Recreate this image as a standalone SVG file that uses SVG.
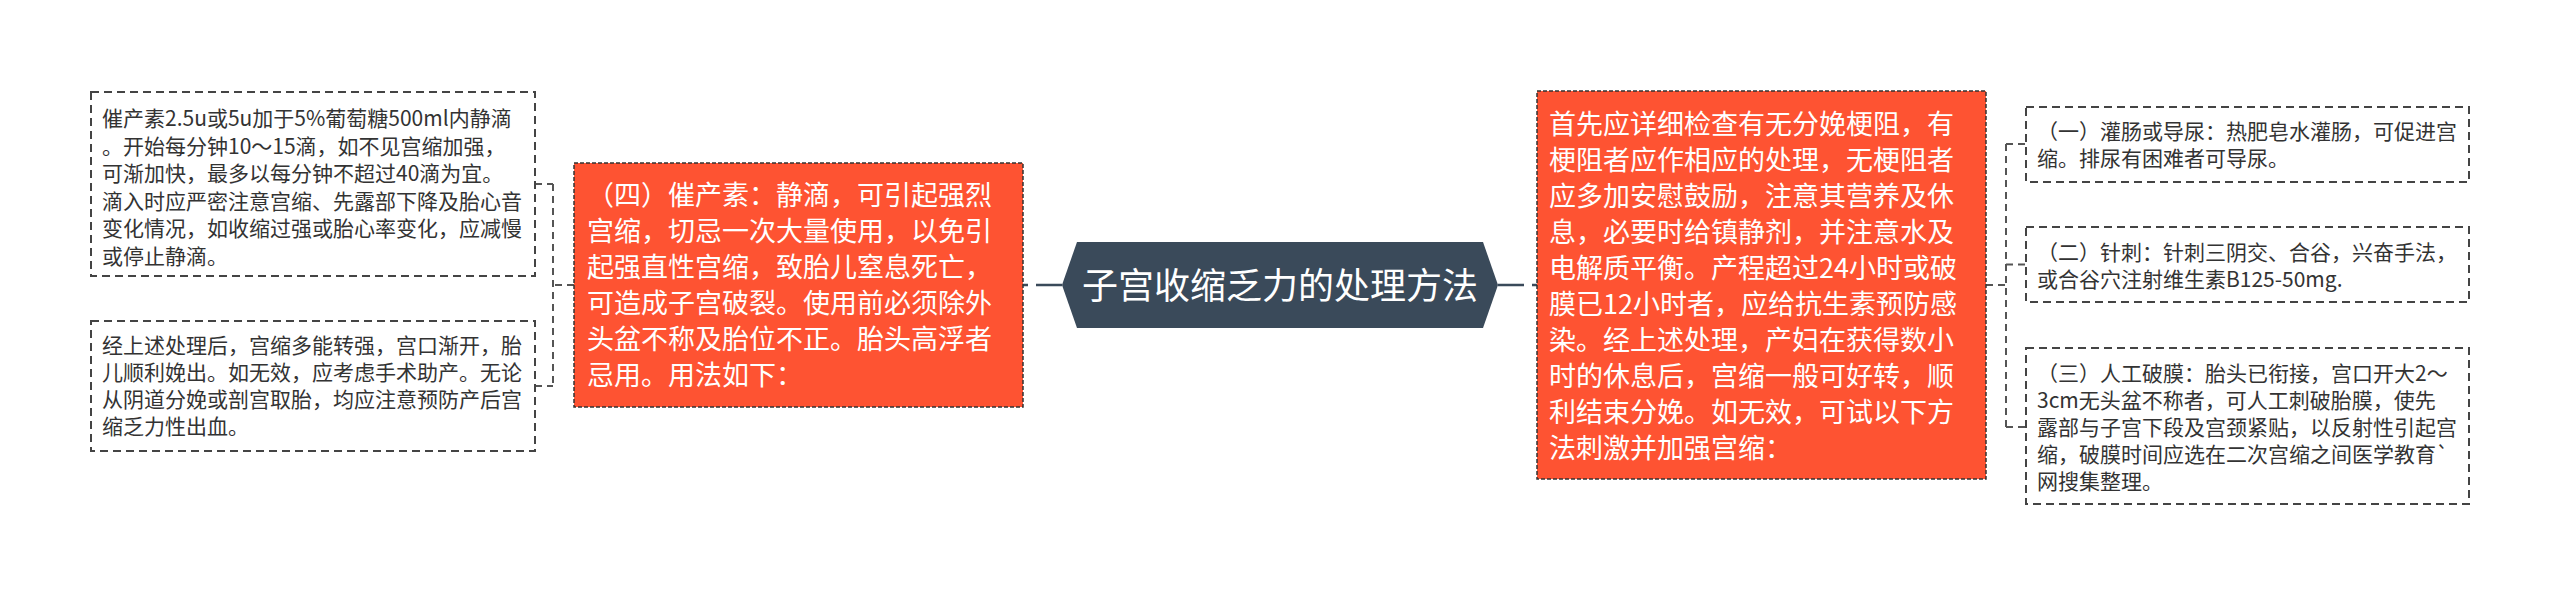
<svg xmlns="http://www.w3.org/2000/svg" width="2560" height="595" viewBox="0 0 2560 595">
<style>
text{font-family:"Noto Sans CJK SC","Noto Sans",sans-serif;}
.box{fill:#ffffff;stroke:#444444;stroke-width:2;stroke-dasharray:8 5;}
.obox{fill:#fe5332;stroke:#333333;stroke-width:1.5;stroke-dasharray:4 2;}
.t{font-size:21px;fill:#333333;}
.ot{font-size:27px;fill:#ffffff;}
.ct{font-size:36px;fill:#ffffff;}
.main{fill:none;stroke:#3a4a5a;stroke-width:2.5;stroke-dasharray:26 8;}
.br{fill:none;stroke:#555555;stroke-width:2;stroke-dasharray:7 5;}
</style>
<rect width="2560" height="595" fill="#ffffff"/>
<g id="connectors">
<path class="main" d="M1062,285 H1023"/>
<path class="main" d="M1498,285 H1537"/>
<path class="br" d="M574,285 H553"/>
<path class="br" d="M553,184 V386"/>
<path class="br" d="M535,184 H553"/>
<path class="br" d="M535,386 H553"/>
<path class="br" d="M1986,285 H2006"/>
<path class="br" d="M2006,144 V427"/>
<path class="br" d="M2006,144 H2026"/>
<path class="br" d="M2006,264.5 H2026"/>
<path class="br" d="M2006,427 H2026"/>
</g>
<g id="center">
<path d="M1062,285 L1077,242 L1483,242 L1498,285 L1483,328 L1077,328 Z" fill="#3a4a5a"/>
<text class="ct" x="1280" y="298.5" text-anchor="middle">子宫收缩乏力的处理方法</text>
</g>
<g id="left-orange">
<rect class="obox" x="574" y="163" width="449" height="244"/>
<text class="ot">
<tspan x="587" y="205">（四）催产素：静滴，可引起强烈</tspan>
<tspan x="587" y="241">宫缩，切忌一次大量使用，以免引</tspan>
<tspan x="587" y="277">起强直性宫缩，致胎儿窒息死亡，</tspan>
<tspan x="587" y="313">可造成子宫破裂。使用前必须除外</tspan>
<tspan x="587" y="349">头盆不称及胎位不正。胎头高浮者</tspan>
<tspan x="587" y="385">忌用。用法如下：</tspan>
</text>
</g>
<g id="left-box1">
<rect class="box" x="91" y="92" width="444" height="184"/>
<text class="t">
<tspan x="102" y="126">催产素2.5u或5u加于5%葡萄糖500ml内静滴</tspan>
<tspan x="102" y="153.5">。开始每分钟10～15滴，如不见宫缩加强，</tspan>
<tspan x="102" y="181">可渐加快，最多以每分钟不超过40滴为宜。</tspan>
<tspan x="102" y="208.5">滴入时应严密注意宫缩、先露部下降及胎心音</tspan>
<tspan x="102" y="236">变化情况，如收缩过强或胎心率变化，应减慢</tspan>
<tspan x="102" y="263.5">或停止静滴。</tspan>
</text>
</g>
<g id="left-box2">
<rect class="box" x="91" y="321" width="444" height="130"/>
<text class="t">
<tspan x="102" y="353">经上述处理后，宫缩多能转强，宫口渐开，胎</tspan>
<tspan x="102" y="380">儿顺利娩出。如无效，应考虑手术助产。无论</tspan>
<tspan x="102" y="407">从阴道分娩或剖宫取胎，均应注意预防产后宫</tspan>
<tspan x="102" y="434">缩乏力性出血。</tspan>
</text>
</g>
<g id="right-orange">
<rect class="obox" x="1537" y="91" width="449" height="388"/>
<text class="ot">
<tspan x="1549" y="133.5">首先应详细检查有无分娩梗阻，有</tspan>
<tspan x="1549" y="169.5">梗阻者应作相应的处理，无梗阻者</tspan>
<tspan x="1549" y="205.5">应多加安慰鼓励，注意其营养及休</tspan>
<tspan x="1549" y="241.5">息，必要时给镇静剂，并注意水及</tspan>
<tspan x="1549" y="277.5">电解质平衡。产程超过24小时或破</tspan>
<tspan x="1549" y="313.5">膜已12小时者，应给抗生素预防感</tspan>
<tspan x="1549" y="349.5">染。经上述处理，产妇在获得数小</tspan>
<tspan x="1549" y="385.5">时的休息后，宫缩一般可好转，顺</tspan>
<tspan x="1549" y="421.5">利结束分娩。如无效，可试以下方</tspan>
<tspan x="1549" y="457.5">法刺激并加强宫缩：</tspan>
</text>
</g>
<g id="right-box1">
<rect class="box" x="2026" y="107" width="443" height="75"/>
<text class="t">
<tspan x="2037" y="139">（一）灌肠或导尿：热肥皂水灌肠，可促进宫</tspan>
<tspan x="2037" y="166">缩。排尿有困难者可导尿。</tspan>
</text>
</g>
<g id="right-box2">
<rect class="box" x="2026" y="227" width="443" height="75"/>
<text class="t">
<tspan x="2037" y="260">（二）针刺：针刺三阴交、合谷，兴奋手法，</tspan>
<tspan x="2037" y="287">或合谷穴注射维生素B125-50mg.</tspan>
</text>
</g>
<g id="right-box3">
<rect class="box" x="2026" y="348" width="443" height="156"/>
<text class="t">
<tspan x="2037" y="381">（三）人工破膜：胎头已衔接，宫口开大2～</tspan>
<tspan x="2037" y="408">3cm无头盆不称者，可人工刺破胎膜，使先</tspan>
<tspan x="2037" y="435">露部与子宫下段及宫颈紧贴，以反射性引起宫</tspan>
<tspan x="2037" y="462">缩，破膜时间应选在二次宫缩之间医学教育`</tspan>
<tspan x="2037" y="489">网搜集整理。</tspan>
</text>
</g>
</svg>
